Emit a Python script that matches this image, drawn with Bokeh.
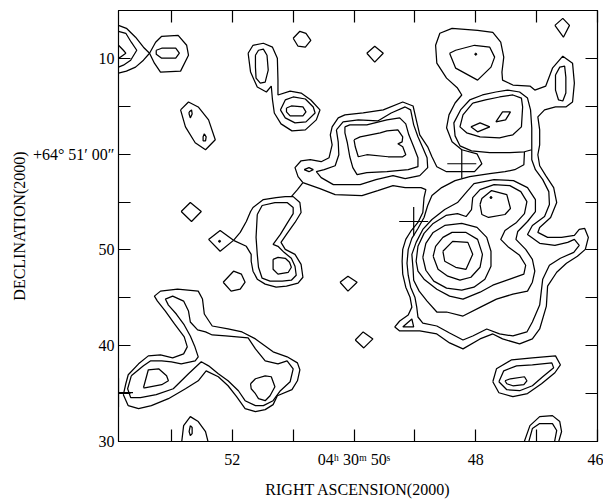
from bokeh.plotting import figure
from bokeh.models import Range1d, FixedTicker, LinearAxis, CustomLabelingPolicy
from bokeh.embed import file_html
from bokeh.resources import INLINE

# ---- axes: RA in seconds of 04h30m, Dec in arcsec above +64°50'00" ----
ra_ticks = [46, 47, 48, 49, 50, 51, 52, 53]
ra_tick_labels = {46: "46", 47: "", 48: "48", 49: "", 50: "04ʰ 30ᵐ 50ˢ", 51: "", 52: "52", 53: ""}
dec_ticks = [30, 35, 40, 45, 50, 55, 60, 65, 70, 75]
dec_tick_labels = {30: "30", 35: "", 40: "40", 45: "", 50: "50", 55: "",
                   60: "+64° 51′ 00″", 65: "", 70: "10", 75: ""}

tl_chevron_outer = [(53.87,73.45),(53.74,73.14),(53.59,72.21),(53.46,71.17),(53.36,70.54),(53.46,69.81),(53.59,69.09),(53.74,68.67),(53.87,68.46)]
tl_chevron_inner = [(53.87,72.83),(53.75,72.62),(53.66,71.69),(53.57,70.85),(53.62,70.33),(53.67,69.81),(53.79,69.29),(53.87,69.09)]
tl_edge_core = [(53.87,71.37),(53.79,70.85),(53.75,70.54),(53.84,70.13),(53.87,70.02)]
tl_oval_outer = [(53.36,70.54),(53.26,71.69),(53.16,72.31),(52.89,72.41),(52.75,71.37),(52.72,70.33),(52.85,68.67),(53.18,68.57),(53.28,69.50),(53.36,70.54)]
tl_oval_inner = [(53.25,70.85),(53.16,71.06),(52.93,71.06),(52.87,70.54),(52.93,70.02),(53.16,70.02),(53.25,70.44),(53.25,70.85)]
elong_ring = [(52.85,64.62),(52.72,65.45),(52.56,64.93),(52.39,63.58),(52.28,61.50),(52.44,60.46),(52.61,61.19),(52.77,62.85),(52.85,64.62)]
drop_a = [(52.71,64.41),(52.67,64.62),(52.66,64.20),(52.69,63.79),(52.71,64.20),(52.71,64.41)]
drop_b = [(52.46,62.12),(52.43,61.81),(52.44,61.39),(52.48,61.39),(52.48,61.81),(52.46,62.12)]
tall_oval_outer = [(51.74,70.54),(51.66,71.37),(51.49,71.58),(51.34,71.17),(51.26,70.02),(51.25,67.73),(51.25,66.18),(51.05,66.59),(50.87,66.38),(50.71,65.66),(50.56,64.62),(50.62,63.58),(50.80,62.54),(51.02,62.43),(51.20,63.16),(51.31,64.30),(51.34,65.66),(51.36,67.11),(51.44,66.49),(51.59,67.01),(51.70,68.57),(51.74,70.54)]
tall_oval_inner = [(51.62,70.33),(51.57,70.85),(51.49,70.96),(51.43,70.33),(51.41,68.77),(51.46,67.53),(51.54,67.42),(51.61,67.94),(51.62,69.09),(51.62,70.33)]
small_ring_mid = [(51.21,64.62),(51.13,65.66),(51.00,65.97),(50.80,65.76),(50.67,64.93),(50.64,64.30),(50.79,63.37),(50.97,63.27),(51.13,63.79),(51.21,64.62)]
small_ring_core = [(51.11,64.82),(51.03,65.03),(50.84,64.93),(50.79,64.41),(50.84,63.99),(51.05,63.99),(51.11,64.41),(51.11,64.82)]
diamond_a = [(51.00,72.10),(50.89,72.83),(50.79,72.62),(50.71,71.89),(50.80,71.17),(50.92,71.27),(51.00,72.10)]
diamond_b = [(49.79,70.54),(49.66,71.27),(49.52,70.54),(49.66,69.61),(49.79,70.54)]
diamond_c = [(46.70,73.45),(46.57,74.18),(46.46,73.45),(46.56,72.21),(46.70,73.45)]
diamond_d = [(52.84,54.01),(52.69,54.95),(52.51,54.01),(52.67,52.97),(52.84,54.01)]
diamond_e = [(52.39,51.10),(52.20,52.04),(51.98,51.00),(52.20,49.86),(52.39,51.10)]
pentagon_f = [(52.15,46.63),(51.98,47.78),(51.85,47.47),(51.79,46.63),(51.87,45.90),(52.02,45.70),(52.15,46.63)]
diamond_g = [(50.23,46.63),(50.10,47.26),(49.95,46.63),(50.10,45.70),(50.23,46.63)]
diamond_h = [(49.98,40.60),(49.85,41.44),(49.69,40.71),(49.84,39.77),(49.98,40.60)]
lg_outer = [(51.98,51.00),(51.87,51.83),(51.77,52.97),(51.70,54.01),(51.66,54.43),(51.49,55.26),(51.28,55.47),(51.13,55.57),(51.00,55.57),(50.89,54.95),(50.87,53.91),(50.97,52.87),(51.11,51.62),(51.20,50.79),(51.13,50.06),(50.97,49.54),(50.87,48.50),(50.84,47.15),(50.92,46.53),(51.11,46.22),(51.28,46.11),(51.46,46.43),(51.59,46.95),(51.66,47.78),(51.69,48.82),(51.69,49.54),(51.77,50.38),(51.98,51.00)]
lg_inner = [(51.59,53.70),(51.51,54.64),(51.30,54.95),(51.10,54.95),(51.00,54.43),(51.00,53.80),(51.10,52.77),(51.21,51.62),(51.33,50.58),(51.25,50.38),(51.15,49.75),(51.03,49.13),(50.97,48.30),(50.95,47.36),(51.03,46.84),(51.18,46.74),(51.38,46.74),(51.51,47.05),(51.57,48.19),(51.59,49.54),(51.61,51.31),(51.59,53.70)]
lg_core = [(51.33,49.02),(51.25,49.23),(51.13,49.13),(51.06,48.71),(51.03,48.19),(51.08,47.67),(51.25,47.47),(51.33,47.98),(51.33,49.02)]
bl_outer = [(53.79,34.89),(53.75,36.03),(53.71,36.97),(53.54,38.11),(53.38,38.94),(53.18,39.04),(52.98,38.73),(52.80,39.15),(52.74,39.88),(52.79,40.92),(52.95,42.27),(53.10,43.62),(53.23,44.66),(53.28,45.18),(53.18,45.70),(52.90,45.90),(52.56,45.70),(52.49,44.87),(52.46,43.31),(52.33,42.06),(52.07,41.75),(51.84,41.44),(51.62,40.71),(51.33,39.36),(51.10,38.84),(50.93,38.21),(50.89,37.49),(50.93,36.34),(51.02,35.41),(51.26,34.78),(51.33,33.85),(51.46,33.33),(51.62,33.12),(51.79,33.43),(51.93,34.68),(52.07,35.82),(52.23,36.76),(52.43,37.38),(52.56,36.34),(52.77,35.51),(53.05,34.47),(53.33,33.74),(53.54,33.43),(53.71,33.74),(53.79,34.89)]
bl_inner = [(53.66,36.86),(53.46,37.90),(53.34,38.42),(53.16,38.42),(53.00,38.32),(52.84,38.11),(52.61,38.42),(52.56,38.84),(52.62,39.98),(52.69,41.02),(52.79,42.17),(52.92,43.31),(53.05,44.24),(53.10,44.87),(52.98,45.18),(52.80,44.66),(52.72,43.62),(52.69,42.48),(52.57,41.65),(52.44,41.44),(52.33,41.12),(52.11,41.02),(51.74,40.81),(51.62,39.67),(51.46,38.42),(51.25,38.11),(51.10,38.42),(51.00,37.59),(51.05,36.24),(51.21,35.30),(51.33,34.26),(51.49,33.74),(51.62,33.74),(51.79,34.26),(51.90,35.30),(52.07,36.34),(52.23,37.07),(52.39,37.90),(52.51,38.32),(52.72,37.07),(52.97,35.51),(53.25,34.89),(53.51,34.58),(53.67,34.58),(53.72,35.51),(53.66,36.86)]
bl_core_left = [(53.46,35.61),(53.38,37.49),(53.21,37.59),(53.08,36.86),(53.05,36.34),(53.16,35.93),(53.44,35.61),(53.46,35.61)]
bl_core_right = [(51.70,36.03),(51.62,36.55),(51.46,36.86),(51.36,36.76),(51.30,35.72),(51.38,34.78),(51.46,34.26),(51.57,34.47),(51.62,34.99),(51.69,35.51),(51.70,36.03)]
bl_arch = [(52.84,29.5),(52.80,31.66),(52.69,32.60),(52.56,32.08),(52.44,31.04),(52.38,29.5)]
bl_arch_drop = [(52.69,31.66),(52.66,31.46),(52.66,30.83),(52.69,30.62),(52.71,31.04),(52.69,31.66)]
br_outer = [(47.72,36.24),(47.66,37.59),(47.41,38.53),(47.07,38.73),(46.69,38.94),(46.61,38.01),(46.70,37.18),(46.92,36.03),(47.15,35.00),(47.39,34.68),(47.62,35.09),(47.72,36.24)]
br_mid = [(47.62,36.24),(47.54,37.38),(47.33,37.90),(47.07,38.01),(46.75,38.21),(46.72,37.69),(46.90,36.76),(47.07,35.82),(47.28,35.30),(47.49,35.41),(47.62,36.24)]
br_core = [(47.52,36.34),(47.43,36.55),(47.20,36.76),(47.16,36.34),(47.21,35.93),(47.39,35.82),(47.49,36.03),(47.52,36.34)]
br_arch_outer = [(47.23,29.5),(47.11,31.66),(46.95,32.60),(46.74,32.70),(46.62,32.08),(46.59,31.04),(46.66,29.5)]
br_arch_inner = [(47.15,29.5),(47.07,31.35),(46.95,31.87),(46.74,31.87),(46.67,31.15),(46.72,29.5)]
ug_core = [(48.43,70.54),(48.33,70.85),(48.02,71.37),(47.77,71.17),(47.69,70.13),(47.75,69.09),(47.97,67.73),(48.33,68.98),(48.43,70.54)]
m_ring_outer = [(47.08,60.46),(47.08,62.75),(47.10,64.62),(47.15,65.86),(47.28,66.49),(47.48,66.69),(47.67,66.49),(47.89,66.18),(48.10,65.66),(48.25,64.62),(48.36,63.27),(48.34,61.91),(48.26,60.87),(48.07,60.35),(47.77,60.15),(47.44,60.15),(47.20,60.25),(47.08,60.46)]
m_ring_inner = [(48.05,65.34),(47.84,65.66),(47.61,65.97),(47.39,66.18),(47.25,65.86),(47.23,64.93),(47.25,62.85),(47.39,62.02),(47.61,61.71),(47.93,61.81),(48.15,62.23),(48.26,62.85),(48.21,64.10),(48.05,65.34)]
m_core_a = [(48.08,62.85),(47.93,63.27),(47.77,62.85),(47.97,62.33),(48.08,62.85)]
m_core_b = [(47.67,63.37),(47.56,64.41),(47.43,64.41),(47.51,63.58),(47.67,63.37)]
right_oval_inner = [(46.69,68.26),(46.62,69.09),(46.54,69.19),(46.52,68.05),(46.52,66.38),(46.57,65.55),(46.64,65.66),(46.69,66.69),(46.69,68.26)]
lowest_level = [(51.03,55.57),(50.93,56.30),(50.84,57.03),(50.92,57.65),(50.97,58.59),(50.87,59.31),(50.72,59.42),(50.54,59.21),(50.41,59.63),(50.36,60.98),(50.39,62.02),(50.36,62.85),(50.26,63.79),(50.15,64.10),(49.85,64.30),(49.52,64.62),(49.20,65.45),(49.03,65.03),(48.97,63.37),(48.92,62.02),(48.79,60.77),(48.72,59.73),(48.64,58.69),(48.48,58.17),(48.02,58.17),(47.90,59.00),(47.98,60.04),(48.23,60.46),(48.39,61.29),(48.48,62.75),(48.44,64.10),(48.34,65.34),(48.23,66.18),(48.30,66.90),(48.48,67.94),(48.64,69.50),(48.66,71.37),(48.59,72.62),(48.39,73.14),(47.97,72.93),(47.72,72.72),(47.59,71.69),(47.54,70.13),(47.57,68.57),(47.56,67.73),(47.39,67.22),(47.11,67.11),(47.03,66.69),(46.85,67.11),(46.74,68.98),(46.57,70.23),(46.41,69.50),(46.38,67.42),(46.41,65.45),(46.52,64.93),(46.69,64.93),(46.87,64.62),(46.98,63.89),(46.95,62.54),(46.95,60.98),(46.98,59.94),(46.95,58.79),(46.85,57.76),(46.72,56.51),(46.67,54.95),(46.77,53.39),(46.95,52.35),(46.98,51.83),(46.82,51.31),(46.59,51.31),(46.38,51.52),(46.30,52.14),(46.21,52.24),(46.15,51.31),(46.20,50.06),(46.33,49.34),(46.51,48.61),(46.67,47.67),(46.82,46.22),(46.84,44.14),(46.95,41.75),(47.07,40.71),(47.28,40.19),(47.56,40.71),(47.72,41.23),(47.93,40.71),(48.21,39.67),(48.43,40.29),(48.64,41.23),(48.92,41.54),(49.25,41.54),(49.33,41.96),(49.25,42.58),(49.11,43.20),(49.05,44.03),(49.08,45.07),(49.15,46.11),(49.20,47.47),(49.21,48.82),(49.20,50.06),(49.15,51.10),(49.07,51.93),(48.95,52.87),(48.87,53.91),(48.85,55.47),(48.82,56.30),(48.90,56.51),(49.16,56.51),(49.36,56.72),(49.61,56.20),(49.87,55.68),(50.31,55.78),(50.56,56.40),(50.84,57.03)]
level_2 = [(47.20,60.25),(47.21,58.90),(47.36,58.38),(47.52,58.17),(47.77,57.96),(48.10,57.65),(48.34,57.24),(48.56,56.51),(48.72,55.68),(48.79,54.64),(48.85,53.39),(48.95,52.24),(49.05,51.21),(49.11,50.06),(49.13,48.61),(49.11,47.36),(49.07,46.11),(49.00,45.07),(48.97,44.03),(48.95,43.00),(48.87,42.37),(48.64,42.06),(48.43,41.33),(48.21,40.60),(48.05,41.02),(47.82,41.75),(47.61,41.23),(47.39,41.02),(47.16,41.44),(47.07,42.48),(46.95,44.24),(46.90,46.95),(46.79,48.40),(46.61,49.13),(46.39,49.75),(46.30,50.48),(46.38,51.10),(46.49,50.79),(46.70,50.48),(46.95,50.69),(47.15,51.62),(47.07,52.56),(46.87,53.49),(46.79,54.74),(46.80,56.09),(46.90,57.34),(47.02,58.38),(47.08,59.42),(47.08,60.46)]
level_3 = [(49.03,47.98),(49.05,49.54),(48.98,50.79),(48.87,52.14),(48.72,53.18),(48.51,54.22),(48.30,54.95),(48.16,55.99),(48.03,56.92),(47.70,57.34),(47.38,57.24),(47.15,56.51),(47.02,55.26),(47.02,54.01),(47.15,52.97),(47.31,51.93),(47.34,51.10),(47.18,50.06),(47.07,49.02),(47.03,47.78),(47.07,46.63),(47.15,45.70),(47.39,45.39),(47.66,44.87),(47.89,44.14),(48.21,43.10),(48.48,43.52),(48.64,43.52),(48.80,44.66),(48.93,45.70),(49.02,46.84),(49.03,47.98)]
level_4 = [(48.98,48.82),(48.95,50.38),(48.85,51.73),(48.70,52.77),(48.49,53.60),(48.30,53.80),(48.16,53.49),(48.07,54.22),(48.05,55.47),(47.93,56.30),(47.70,56.82),(47.44,56.72),(47.26,56.09),(47.16,55.05),(47.20,53.80),(47.33,52.87),(47.52,52.04),(47.59,51.10),(47.46,50.27),(47.28,49.44),(47.18,48.40),(47.21,47.47),(47.44,46.95),(47.72,46.32),(47.93,45.59),(48.21,44.87),(48.43,45.18),(48.64,45.90),(48.85,46.95),(48.95,47.78),(48.98,48.82)]
level_5 = [(48.87,49.23),(48.82,50.69),(48.70,51.83),(48.51,52.56),(48.23,52.77),(47.98,52.35),(47.82,51.31),(47.75,49.86),(47.75,48.30),(47.85,46.95),(48.03,46.11),(48.23,45.80),(48.48,46.01),(48.69,46.74),(48.82,47.88),(48.87,49.23)]
level_5_north = [(47.93,54.74),(47.90,55.37),(47.74,56.20),(47.49,55.78),(47.43,54.33),(47.52,53.70),(47.79,53.39),(47.90,53.70),(47.93,54.74)]
level_6 = [(48.70,49.34),(48.66,50.38),(48.54,51.31),(48.39,51.83),(48.16,51.83),(47.97,51.10),(47.89,49.54),(47.93,48.19),(48.08,47.15),(48.26,46.84),(48.46,47.26),(48.62,47.98),(48.70,49.34)]
level_7 = [(48.54,49.86),(48.38,50.89),(48.13,50.79),(48.05,49.54),(48.16,47.98),(48.33,48.19),(48.51,48.82),(48.54,49.86)]
nose_tri = [(49.20,41.96),(49.05,42.79),(49.02,41.96),(49.20,41.96)]
box_b2 = [(50.29,62.54),(50.18,63.37),(49.93,63.58),(49.61,63.47),(49.39,64.30),(49.16,64.93),(49.07,64.62),(49.02,63.06),(48.95,61.81),(48.87,60.67),(48.80,59.63),(48.79,58.59),(48.92,57.76),(49.16,57.44),(49.36,57.76),(49.64,57.34),(49.90,56.82),(50.34,56.82),(50.54,57.55),(50.62,58.17),(50.49,58.38),(50.31,58.79),(50.25,59.94),(50.26,61.29),(50.29,62.54)]
box_b3 = [(50.15,62.85),(50.07,63.06),(49.79,63.06),(49.46,63.58),(49.25,63.79),(49.15,63.16),(49.10,62.02),(49.02,60.77),(48.95,59.63),(48.95,58.69),(49.11,58.38),(49.46,58.17),(49.79,58.07),(49.95,57.86),(50.02,58.59),(50.07,59.73),(50.11,61.19),(50.15,62.23),(50.15,62.85)]
box_b4 = [(50.00,61.50),(49.90,61.81),(49.57,62.23),(49.46,62.43),(49.28,62.54),(49.20,61.81),(49.21,61.29),(49.28,61.08),(49.20,60.77),(49.15,59.94),(49.20,59.73),(49.44,59.73),(49.79,59.94),(49.93,59.73),(49.98,60.77),(50.00,61.50)]
box_drop = [(50.82,58.38),(50.74,58.59),(50.67,58.38),(50.74,58.17),(50.82,58.38)]

# source positions (crosses) and peak dots
cross_ra = [48.23, 49.02, 53.87]
cross_dec = [59.00, 52.97, 35.10]
peak_ra = [48.00, 47.75, 52.21]
peak_dec = [70.44, 55.47, 50.90]

contours = [tl_chevron_outer, tl_chevron_inner, tl_edge_core, tl_oval_outer, tl_oval_inner,
            elong_ring, drop_a, drop_b, tall_oval_outer, tall_oval_inner, small_ring_mid,
            small_ring_core, diamond_a, diamond_b, diamond_c, diamond_d, diamond_e, pentagon_f,
            diamond_g, diamond_h, lg_outer, lg_inner, lg_core, bl_outer, bl_inner, bl_core_left,
            bl_core_right, bl_arch, bl_arch_drop, br_outer, br_mid, br_core, br_arch_outer,
            br_arch_inner, ug_core, m_ring_outer, m_ring_inner, m_core_a, m_core_b,
            right_oval_inner, lowest_level, level_2, level_3, level_4, level_5, level_5_north,
            level_6, level_7, nose_tri, box_b2, box_b3, box_b4, box_drop]

xs = [[pt[0] for pt in c] for c in contours]
ys = [[pt[1] for pt in c] for c in contours]

FONT = "Liberation Serif"

p = figure(width=603, height=500,
           x_range=Range1d(53.87, 46.0), y_range=Range1d(30, 75),
           output_backend="svg", toolbar_location=None,
           min_border_left=118, min_border_right=6, min_border_top=10, min_border_bottom=57)
p.background_fill_color = "white"
p.border_fill_color = "white"
p.outline_line_color = "black"
p.outline_line_width = 1.2
p.xgrid.visible = False
p.ygrid.visible = False

p.multi_line(xs, ys, line_color="black", line_width=1.25)
p.scatter(cross_ra, cross_dec, marker="cross", size=29, line_color="black", line_width=1.2)
p.scatter(peak_ra, peak_dec, marker="circle", size=2, color="black")

for ax in (p.xaxis[0], p.yaxis[0]):
    ax.major_tick_in = 12
    ax.major_tick_out = 0
    ax.major_tick_line_width = 1.2
    ax.minor_tick_line_color = None
    ax.major_tick_line_color = "black"
    ax.axis_line_color = "black"
    ax.major_label_text_font = FONT
    ax.major_label_text_font_size = "16px"
    ax.major_label_text_color = "black"
    ax.axis_label_text_font = FONT
    ax.axis_label_text_font_size = "16px"
    ax.axis_label_text_font_style = "normal"
    ax.axis_label_text_color = "black"

p.xaxis[0].ticker = FixedTicker(ticks=ra_ticks)
p.xaxis[0].major_label_overrides = ra_tick_labels
p.xaxis[0].major_label_standoff = 9
p.xaxis[0].axis_label = "RIGHT ASCENSION(2000)"
p.xaxis[0].axis_label_standoff = 10

p.yaxis[0].ticker = FixedTicker(ticks=dec_ticks)
p.yaxis[0].major_label_overrides = dec_tick_labels
p.yaxis[0].major_label_standoff = 4
p.yaxis[0].axis_label = "DECLINATION(2000)"
p.yaxis[0].axis_label_standoff = 2

top_axis = LinearAxis(ticker=FixedTicker(ticks=ra_ticks), major_tick_in=12, major_tick_out=0,
                      major_tick_line_width=1.2, minor_tick_line_color=None,
                      major_label_text_font_size="1px", major_label_standoff=0,
                      major_label_policy=CustomLabelingPolicy(code="return []"),
                      axis_line_color="black")
right_axis = LinearAxis(ticker=FixedTicker(ticks=dec_ticks), major_tick_in=12, major_tick_out=0,
                        major_tick_line_width=1.2, minor_tick_line_color=None,
                        major_label_text_font_size="1px", major_label_standoff=0,
                        major_label_policy=CustomLabelingPolicy(code="return []"),
                        axis_line_color="black")
p.add_layout(top_axis, "above")
p.add_layout(right_axis, "right")

open("out.html", "w").write(file_html(p, INLINE))
